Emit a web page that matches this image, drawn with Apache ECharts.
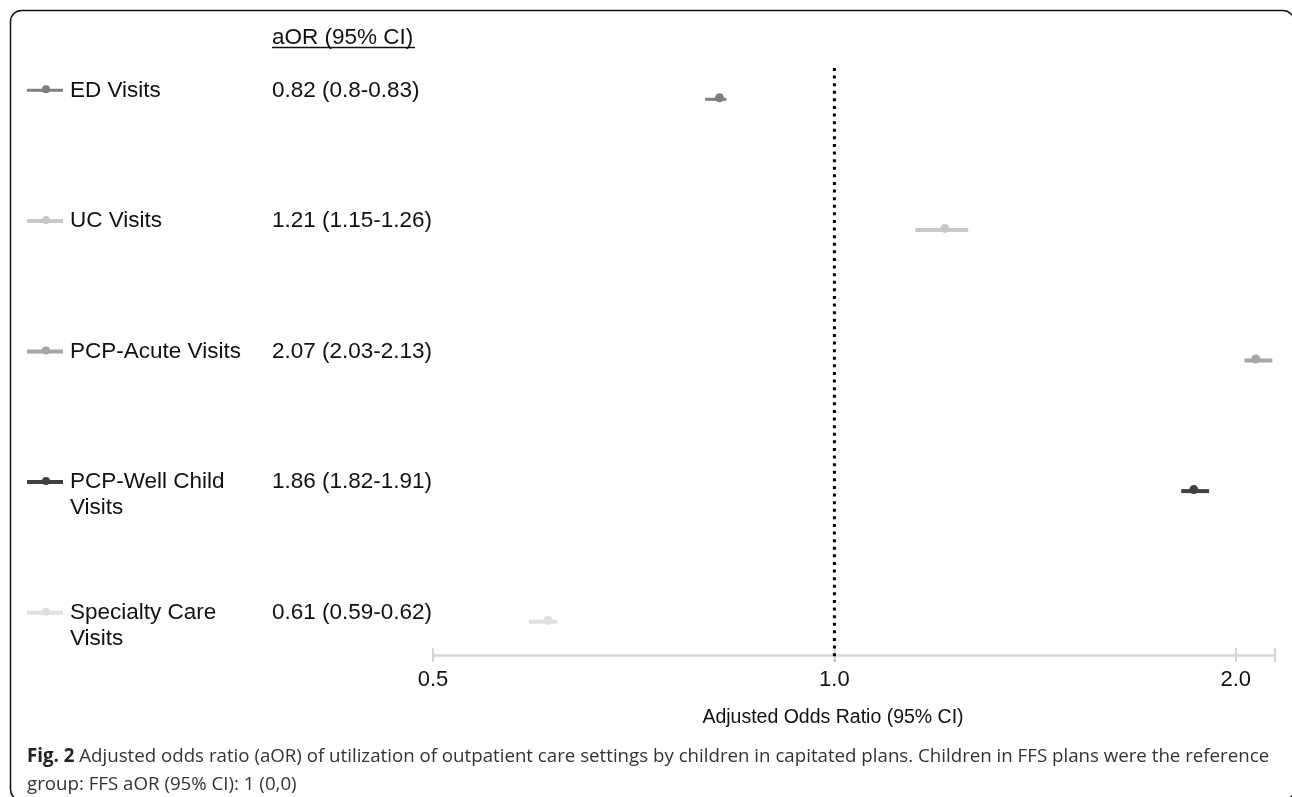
<!DOCTYPE html>
<html><head><meta charset="utf-8">
<script src="https://cdn.jsdelivr.net/npm/echarts@6/dist/echarts.min.js"></script>
<style>html,body{margin:0;padding:0;background:#fff}#c{width:1292px;height:797px}</style>
</head><body><div id="c"></div>
<script>
// ---- data ----
const categories = ['ED Visits', 'UC Visits', 'PCP-Acute Visits', 'PCP-Well Child\nVisits', 'Specialty Care\nVisits'];
const aor = [0.82, 1.21, 2.07, 1.86, 0.61];
const ciLow = [0.80, 1.15, 2.03, 1.82, 0.59];
const ciHigh = [0.83, 1.26, 2.13, 1.91, 0.62];
const aorLabels = ['0.82 (0.8-0.83)', '1.21 (1.15-1.26)', '2.07 (2.03-2.13)', '1.86 (1.82-1.91)', '0.61 (0.59-0.62)'];
const xTickLabels = [0.5, 1.0, 2.0];
const refValue = 1.0;
const columnHeader = 'aOR (95% CI)';
const xAxisTitle = 'Adjusted Odds Ratio (95% CI)';
const captionBold = 'Fig. 2';
const captionText = ' Adjusted odds ratio (aOR) of utilization of outpatient care settings by children in capitated plans. Children in FFS plans were the reference\ngroup: FFS aOR (95% CI): 1 (0,0)';

// ---- styles ----
const colors = ['#7f7f7f', '#c8c8c8', '#a6a6a6', '#404040', '#e0e0e0'];
const barWidths = [3, 4, 4, 4, 4];
const FONT = '"Liberation Sans", Arial, sans-serif';
const axisCol = '#d6d6d6';

const rows = aor.map((v, i) => [v, ciLow[i], ciHigh[i], i]);

const chart = echarts.init(document.getElementById('c'));
const axisBase = {
  type: 'log', logBase: 2, min: 0.5, max: 2.14,
  splitLine: { show: false }
};
chart.setOption({
  animation: false,
  backgroundColor: '#fff',
  grid: { left: 433, right: 17, top: 68, bottom: 142 },
  xAxis: [
    Object.assign({}, axisBase, {
      position: 'bottom',
      axisLine: { show: true, onZero: false, lineStyle: { color: axisCol, width: 2.5 } },
      axisTick: { show: true, length: 7, lineStyle: { color: axisCol, width: 2 } },
      axisLabel: {
        margin: 14, fontSize: 22, color: '#111', fontFamily: FONT,
        formatter: v => xTickLabels.some(t => Math.abs(t - v) < 1e-6) ? v.toFixed(1) : ''
      },
      name: xAxisTitle, nameLocation: 'middle', nameGap: 53,
      nameTextStyle: { fontSize: 19.5, color: '#111', fontFamily: FONT, padding: [0, 42, 0, 0] }
    }),
    Object.assign({}, axisBase, {
      position: 'bottom',
      axisLine: { show: false, onZero: false },
      axisTick: { show: true, inside: true, length: 7, lineStyle: { color: axisCol, width: 2 } },
      axisLabel: { show: false }
    })
  ],
  yAxis: { type: 'value', inverse: true, min: -0.2397, max: 4.255, show: false },
  title: {
    left: 22, top: 738,
    text: '{b|' + captionBold + '}' + captionText,
    textStyle: {
      fontFamily: '"Open Sans", sans-serif', fontSize: 18.7, color: '#333', fontWeight: 'normal', lineHeight: 28,
      rich: { b: { fontFamily: '"Open Sans", sans-serif', fontSize: 18.7, fontWeight: 'bold', color: '#222', lineHeight: 28 } }
    }
  },
  graphic: [
    { type: 'rect', shape: { x: 10.5, y: 10.5, width: 1283.5, height: 790, r: 11 },
      style: { fill: 'none', stroke: '#111', lineWidth: 1.5 }, silent: true },
    { type: 'text', x: 272, y: 26, style: { text: columnHeader, font: '22.5px ' + FONT, fill: '#111' } },
    { type: 'line', shape: { x1: 272, y1: 47.5, x2: 415, y2: 47.5 }, style: { stroke: '#111', lineWidth: 1.5 } }
  ],
  series: [
    {
      type: 'line', xAxisIndex: 0, silent: true, symbol: 'none', clip: false,
      data: [[refValue, -0.24], [refValue, 4.3]],
      lineStyle: { color: '#000', width: 3, type: [3, 4.6] }, z: 3
    },
    {
      type: 'custom', xAxisIndex: 0, clip: false, silent: true, z: 4,
      encode: { x: [0, 1, 2], y: 3 },
      data: rows,
      renderItem: function (params, api) {
        const i = api.value(3);
        const p = api.coord([api.value(0), i]);
        const a = api.coord([api.value(1), i]);
        const b = api.coord([api.value(2), i]);
        const c = colors[params.dataIndex];
        const ty = p[1] - 9;
        return {
          type: 'group', children: [
            { type: 'line', shape: { x1: a[0], y1: p[1], x2: b[0], y2: p[1] }, style: { stroke: c, lineWidth: barWidths[params.dataIndex] } },
            { type: 'circle', shape: { cx: p[0], cy: p[1] - 1.5, r: 4.5 }, style: { fill: c } },
            { type: 'line', shape: { x1: 27, y1: ty, x2: 63, y2: ty }, style: { stroke: c, lineWidth: barWidths[params.dataIndex] } },
            { type: 'circle', shape: { cx: 46, cy: ty - 1, r: 4 }, style: { fill: c } },
            { type: 'text', x: 70, y: ty - 13, style: { text: categories[params.dataIndex], font: '22.5px ' + FONT, fill: '#111', lineHeight: 26, verticalAlign: 'top' } },
            { type: 'text', x: 272, y: ty - 13, style: { text: aorLabels[params.dataIndex], font: '22.5px ' + FONT, fill: '#111', lineHeight: 26, verticalAlign: 'top' } }
          ]
        };
      }
    }
  ]
});
</script></body></html>
